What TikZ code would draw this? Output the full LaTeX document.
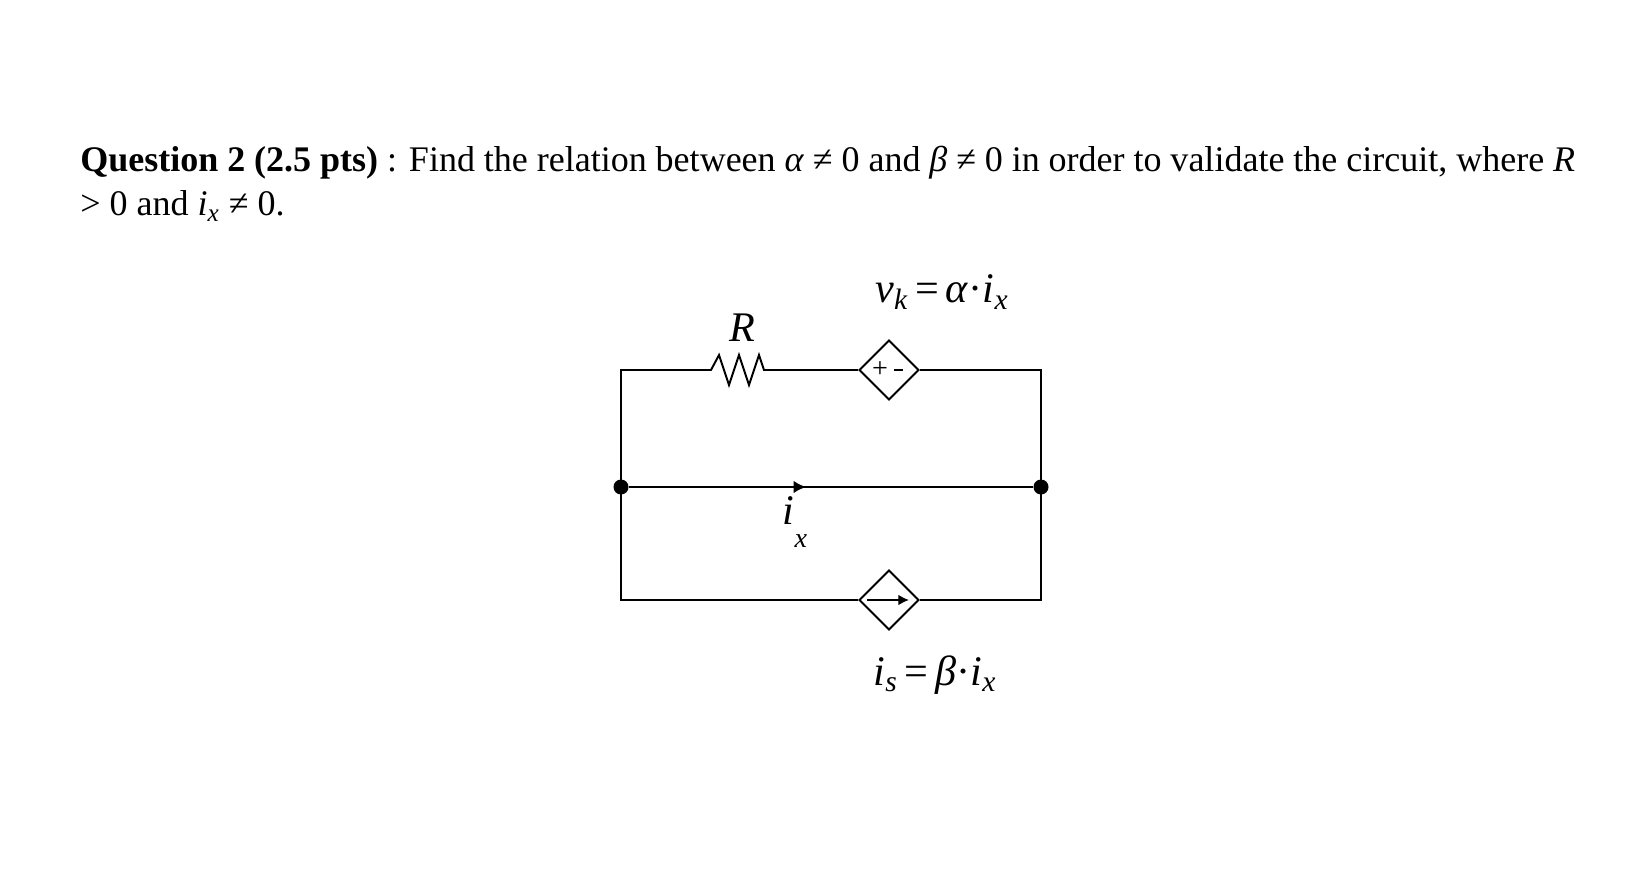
\documentclass[tikz,border=0pt]{standalone}
\usepackage{fontspec}
\setmainfont{Liberation Serif}
\usetikzlibrary{shapes.geometric,arrows.meta}
\begin{document}
\begin{tikzpicture}[x=0.02cm,y=-0.02cm,
  wire/.style={line width=1.1pt},
  src/.style={diamond,draw,line width=1.1pt,minimum width=60*0.02cm,minimum height=60*0.02cm,inner sep=0pt},
  dot/.style={circle,fill,inner sep=0pt,minimum size=15*0.02cm},
  lbl/.style={font=\fontsize{24}{28}\selectfont}]
\useasboundingbox (0,0) rectangle (1640,885);
\node[anchor=north west,text width=29.9cm,align=justify,inner sep=0pt,font=\fontsize{20.5}{25}\selectfont] (q) at (80,146)
 {\textbf{Question 2 (2.5 pts)} : Find the relation between \textit{α} ≠ 0 and \textit{β} ≠ 0 in order to validate the circuit, where \textit{R} > 0 and \textit{i\textsubscript{x}} ≠ 0.};
\coordinate (tl) at (621,370); \coordinate (tr) at (1041,370);
\node[dot] (ml) at (621,487) {}; \node[dot] (mr) at (1041,487) {};
\coordinate (bl) at (621,600); \coordinate (br) at (1041,600);
\coordinate (r1) at (705,370); \coordinate (r2) at (767,370);
\node[src] (vs) at (889,370) {};
\node[src] (cs) at (889,600) {};
\node (pl) at (880,370) {\fontsize{16}{16}\selectfont +};
\draw[line width=1pt] (894,370) -- (903,370);
\draw[line width=1pt,-{Latex[length=6pt,width=6pt]}] (867,600) -- (909,600);
\draw[wire] (r1) -- (tl) -- (ml.center) -- (bl) -- (cs.west);
\draw[wire] (cs.east) -- (br) -- (mr.center) -- (tr) -- (vs.east);
\draw[wire] (vs.west) -- (r2);
\draw[wire] (r1) -- (711,370) -- (719,355) -- (729,385) -- (739,355) -- (749,385) -- (759,355) -- (764,370) -- (r2);
\draw[wire] (ml) -- (mr);
\draw[line width=1pt,-{Latex[length=7pt,width=7pt]}] (760,487) -- (806,487);
\node[lbl] (rl) at (742,328) {\textit{R}};
\node[lbl] (vl) at (942,292) {\textit{v\textsubscript{k}}\,=\,\textit{α}·\textit{i\textsubscript{x}}};
\node[lbl] (il) at (795,522) {\textit{i}\raisebox{-1.2ex}{\fontsize{16}{16}\selectfont\textit{x}}};
\node[lbl] (isl) at (935,675) {\textit{i\textsubscript{s}}\,=\,\textit{β}·\textit{i\textsubscript{x}}};
\end{tikzpicture}
\end{document}
